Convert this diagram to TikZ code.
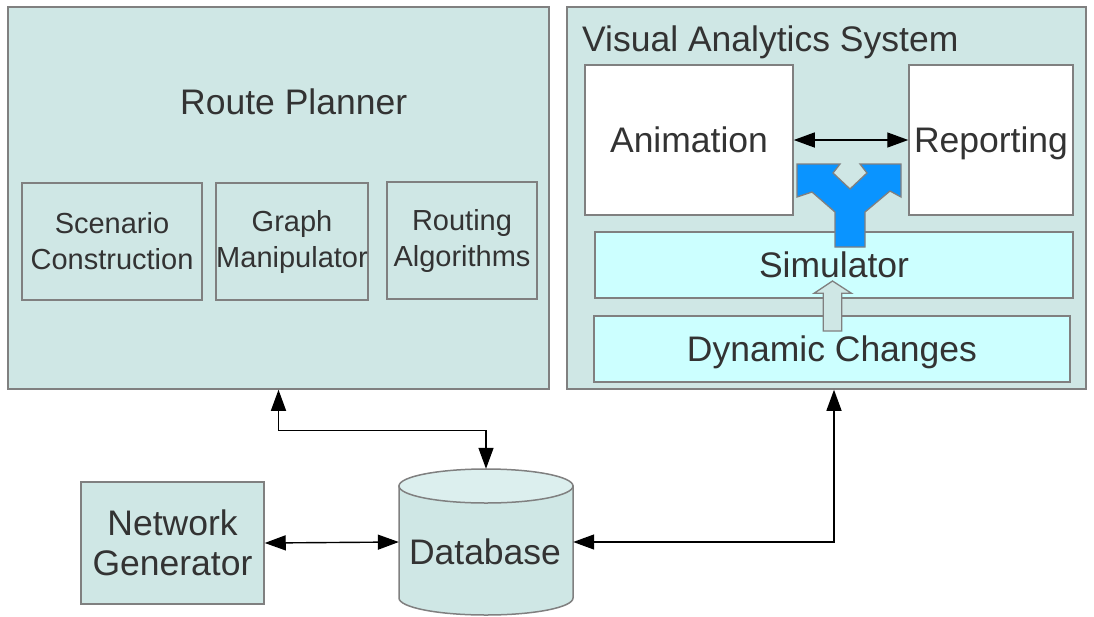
\documentclass[tikz,border=0pt]{standalone}
\usepackage{fontspec}
\setmainfont{Liberation Sans}
\usetikzlibrary{arrows.meta,calc}
\definecolor{panelfill}{HTML}{CFE7E5}
\definecolor{simfill}{HTML}{CCFFFF}
\definecolor{edgegray}{HTML}{808080}
\definecolor{txt}{HTML}{333333}
\definecolor{splitblue}{HTML}{0A94FF}
\definecolor{dbtop}{HTML}{DCEFEE}
\tikzset{
  panel/.style={draw=edgegray, line width=1.5pt, fill=panelfill, inner sep=0pt,
                text=txt, align=center},
  whitebox/.style={panel, fill=white},
  layer/.style={panel, fill=simfill},
  lbl/.style={text=txt, inner sep=0pt, align=center},
  big/.style={font=\fontsize{35.5}{40}\selectfont},
  oneline/.style={text height=25pt, text depth=0pt},
  small/.style={font=\fontsize{29}{36}\selectfont},
  tip/.tip={Triangle[length=21pt,width=15pt]},
  conn/.style={draw=black, line width=1.4pt, tip-tip},
  shapeline/.style={draw=edgegray, line width=1.3pt, line join=miter},
}
\begin{document}
\begin{tikzpicture}[x=1pt,y=-1pt]
\useasboundingbox[fill=white] (0,0) rectangle (1094,616);

% two main panels
\node[panel, minimum width=541pt, minimum height=382pt] (rp) at (278.5,198) {};
\node[panel, minimum width=519pt, minimum height=382pt] (va) at (826.5,198) {};

% route planner parts
\node[panel, small, minimum width=180pt, minimum height=117pt] (scen) at (112,241.5) {Scenario\\Construction};
\node[panel, small, minimum width=150pt, minimum height=117pt] (graph) at (292,241.5) {Graph\\Manipulator};
\node[panel, small, minimum width=150pt, minimum height=117pt] (rout) at (462,240.5) {Routing\\Algorithms};
\node[lbl, big, anchor=base west] (rptitle) at (180,114) {Route Planner};

% visual analytics parts
\node[lbl, big, anchor=base west] (vatitle) at (582,51) {Visual Analytics System};
\node[whitebox, big, oneline, minimum width=208pt, minimum height=150pt] (anim) at (689,140) {Animation};
\node[whitebox, big, oneline, minimum width=164pt, minimum height=150pt] (rep) at (991,140) {Reporting};
\node[layer, big, oneline, minimum width=478pt, minimum height=66pt] (sim) at (834,265) {Simulator};
\node[layer, big, oneline, minimum width=476pt, minimum height=66pt] (dyn) at (832,349) {Dynamic Changes};

% split arrow from the simulator up to animation and reporting
\filldraw[shapeline, fill=splitblue]
  (797,164) -- (840,164) -- (833,173) -- (850,189) -- (867,173) -- (860,164)
  -- (901,164) -- (901,197) -- (890,191) -- (865,212) -- (865,247)
  -- (835,247) -- (835,212) -- (812,192) -- (797,197) -- cycle;

% hollow arrow from dynamic changes into the simulator
\filldraw[shapeline, fill=panelfill]
  (823.3,331) -- (823.3,293.3) -- (814,293.3) -- (832.5,281) -- (851.5,293.3)
  -- (841.7,293.3) -- (841.7,331) -- cycle;

% network generator
\node[panel, big, minimum width=183pt, minimum height=122pt] (ng) at (172.5,543) {Network\\Generator};

% database cylinder
\node[minimum width=174pt, minimum height=146pt, inner sep=0pt] (db) at (486,542) {};
\filldraw[draw=edgegray, line width=1.5pt, fill=panelfill]
  (399,486) -- (399,598) .. controls (399,607.4) and (438,615) .. (486,615)
  .. controls (534,615) and (573,607.4) .. (573,598) -- (573,486) -- cycle;
\filldraw[draw=edgegray, line width=1.5pt, fill=dbtop] (486,486) ellipse [x radius=87, y radius=17];
\node[lbl, big] (dblabel) at (485,552) {Database};

% connectors
\draw[conn] (rp.south) -- ++(0,41) -| (db.north);
\draw[conn] (ng.east) -- (db.west);
\draw[conn] (db.east) -| ([xshift=7.5pt]va.south);
\draw[conn] (anim.east) -- (rep.west);
\end{tikzpicture}
\end{document}
